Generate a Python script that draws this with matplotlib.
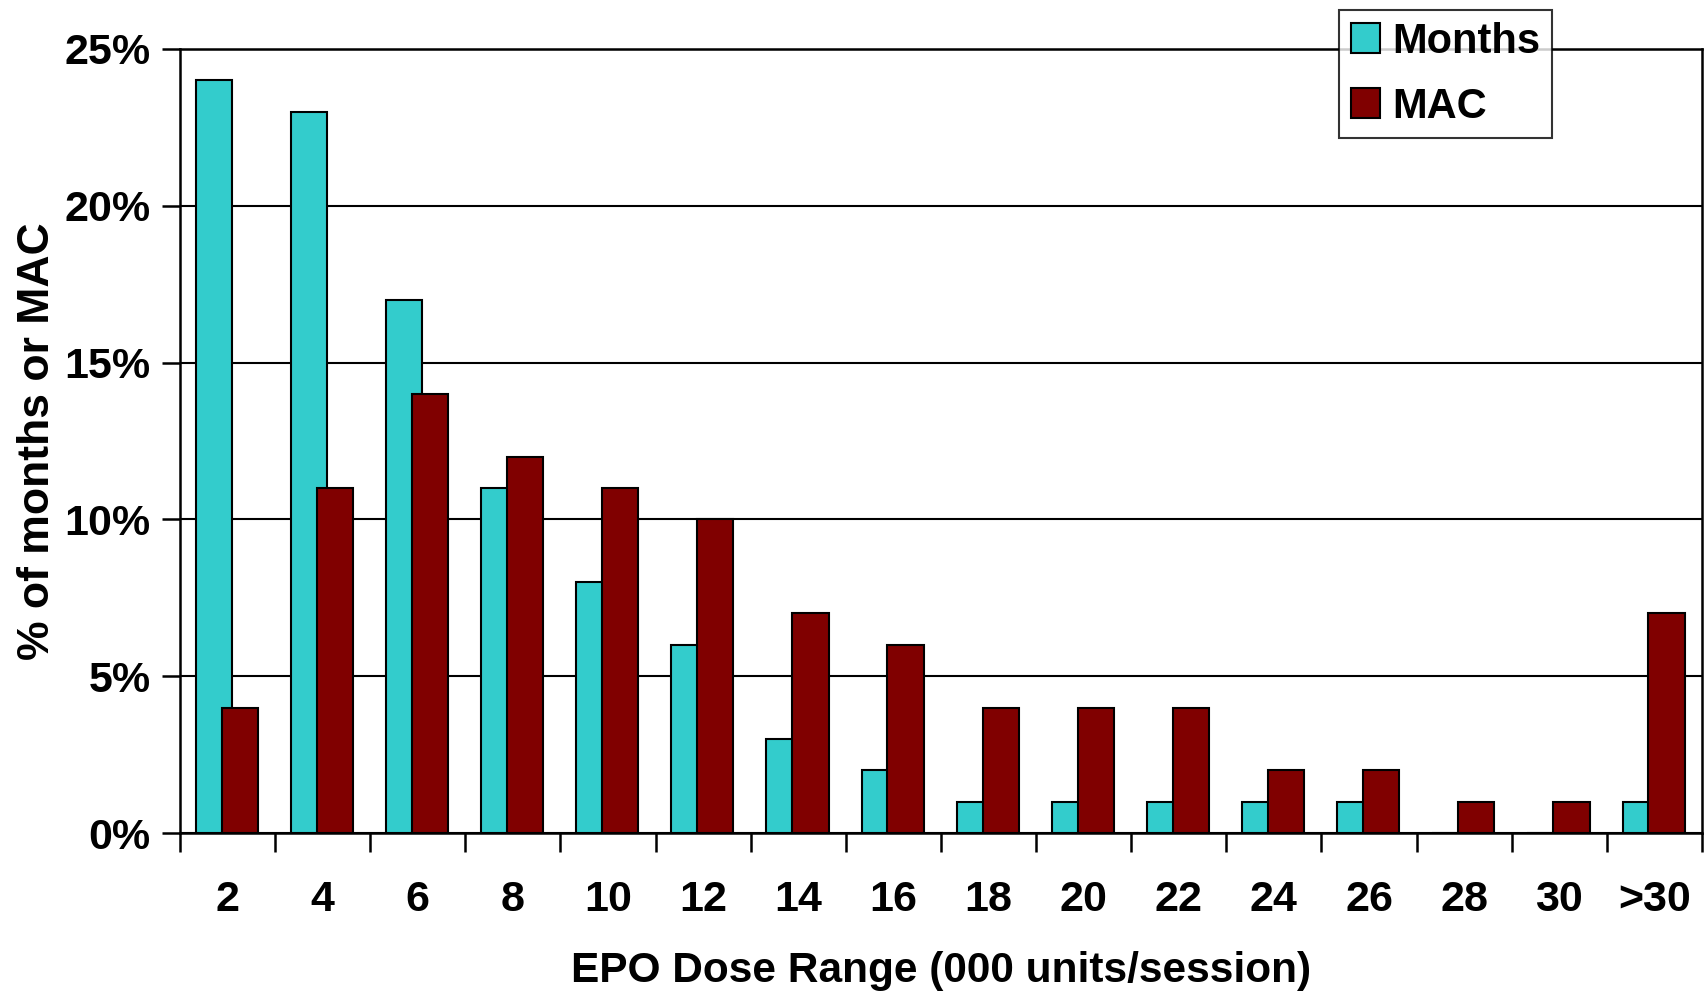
import numpy as np
import matplotlib.pyplot as plt
from matplotlib.ticker import FuncFormatter

plt.rcParams['font.family'] = ['Liberation Sans', 'DejaVu Sans']
plt.rcParams['font.weight'] = 'bold'

# dose ranges (000 units/session) and share of months / MAC per range, in %
dose_labels = ['2', '4', '6', '8', '10', '12', '14', '16', '18', '20',
               '22', '24', '26', '28', '30', '>30']
months_pct = [24, 23, 17, 11, 8, 6, 3, 2, 1, 1, 1, 1, 1, 0, 0, 1]
mac_pct = [4, 11, 14, 12, 11, 10, 7, 6, 4, 4, 4, 2, 2, 1, 1, 7]

x = np.arange(len(dose_labels))
bar_w = 0.38

fig = plt.figure(figsize=(17.04, 9.91), dpi=100)
ax = fig.add_axes([0.1056, 0.1594, 0.8932, 0.7912])

# overlapping bars, Excel style
ax.bar(x - 0.335, months_pct, width=bar_w, align='edge', color='#33CCCC',
       edgecolor='black', linewidth=1.5, label='Months', zorder=3)
ax.bar(x - 0.062, mac_pct, width=bar_w, align='edge', color='#800000',
       edgecolor='black', linewidth=1.5, label='MAC', zorder=4)

ax.set_xlim(-0.5, len(dose_labels) - 0.5)
ax.set_ylim(0, 25)
ax.set_yticks(np.arange(0, 26, 5))
ax.yaxis.set_major_formatter(FuncFormatter(lambda v, p: '%d%%' % v))
ax.grid(axis='y', color='black', linewidth=1.5, zorder=1)

# category labels centred, tick marks on the boundaries
ax.set_xticks(x)
ax.set_xticklabels(dose_labels)
ax.tick_params(axis='x', which='major', length=0, pad=34)
ax.set_xticks(np.arange(-0.5, len(dose_labels)), minor=True)
ax.tick_params(axis='x', which='minor', length=14, width=1.8, direction='out')
ax.tick_params(axis='y', length=13, width=1.8, direction='out', pad=8)
ax.tick_params(labelsize=31)
for lbl in ax.get_xticklabels() + ax.get_yticklabels():
    lbl.set_fontweight('bold')

for side in ['left', 'bottom', 'right', 'top']:
    ax.spines[side].set_linewidth(1.8)

ax.set_xlabel('EPO Dose Range (000 units/session)', fontsize=30.5,
              fontweight='bold', labelpad=22)
ax.set_ylabel('% of months or MAC', fontsize=32, fontweight='bold', labelpad=5)

leg = fig.legend(loc='upper right', bbox_to_anchor=(0.911, 0.99),
                 fontsize=30, frameon=True, fancybox=False, handlelength=0.7,
                 handleheight=0.7, handletextpad=0.3, borderpad=0.28,
                 labelspacing=0.6, borderaxespad=0)
leg.get_frame().set_edgecolor('black')
leg.get_frame().set_linewidth(1.5)
for t in leg.get_texts():
    t.set_fontweight('bold')

fig.savefig('out.png', dpi=100)
